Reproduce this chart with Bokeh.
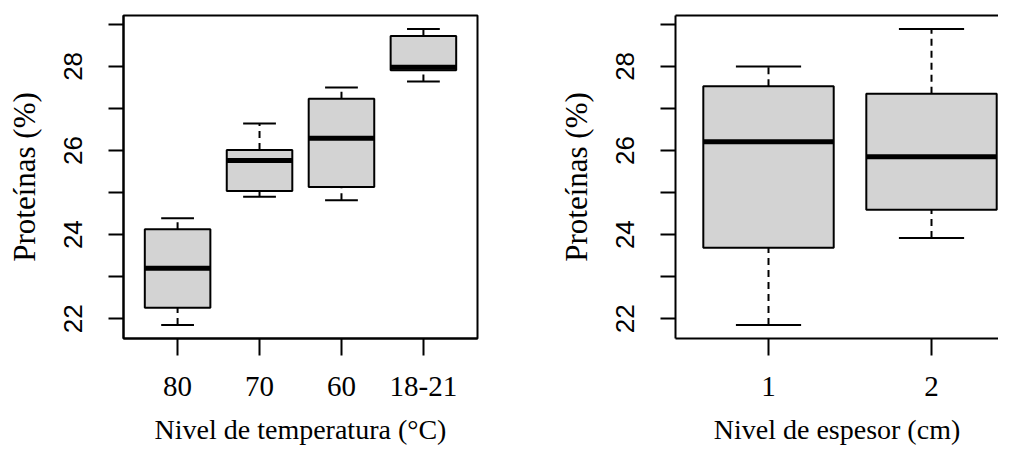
from bokeh.plotting import figure
from bokeh.layouts import row
from bokeh.models import Range1d, FixedTicker, LinearAxis, ColumnDataSource
from bokeh.transform import dodge
from bokeh.embed import file_html
from bokeh.resources import INLINE

# ---- data ----
temp_levels = ["80", "70", "60", "18-21"]
temp_whisk_lo = [21.85, 24.90, 24.82, 27.64]
temp_q1 = [22.26, 25.04, 25.13, 27.91]
temp_median = [23.20, 25.76, 26.29, 27.98]
temp_q3 = [24.13, 26.01, 27.23, 28.72]
temp_whisk_hi = [24.39, 26.64, 27.50, 28.89]

esp_levels = ["1", "2"]
esp_whisk_lo = [21.85, 23.92]
esp_q1 = [23.69, 24.59]
esp_median = [26.21, 25.85]
esp_q3 = [27.53, 27.35]
esp_whisk_hi = [28.00, 28.89]

y_ticks = [22, 23, 24, 25, 26, 27, 28, 29]
y_tick_labels = ["22", "", "24", "", "26", "", "28", ""]

y_label = "Proteínas (%)"
temp_title = "Nivel de temperatura (°C)"
esp_title = "Nivel de espesor (cm)"

FILL = "#d3d3d3"
SERIF = "Liberation Serif"
SANS = "Liberation Sans"


def draw_boxes(p, levels, lo, q1, med, q3, hi, cap_half):
    xs = list(range(1, len(levels) + 1))
    src = ColumnDataSource(dict(x=xs, lo=lo, q1=q1, med=med, q3=q3, hi=hi))
    # whiskers (dashed)
    p.segment(x0="x", y0="q3", x1="x", y1="hi", source=src,
              line_color="black", line_width=2, line_dash="7 5")
    p.segment(x0="x", y0="lo", x1="x", y1="q1", source=src,
              line_color="black", line_width=2, line_dash="7 5")
    # staples
    p.segment(x0=dodge("x", -cap_half), y0="hi", x1=dodge("x", cap_half), y1="hi",
              source=src, line_color="black", line_width=2)
    p.segment(x0=dodge("x", -cap_half), y0="lo", x1=dodge("x", cap_half), y1="lo",
              source=src, line_color="black", line_width=2)
    # boxes
    p.vbar(x="x", width=0.8, bottom="q1", top="q3", source=src,
           fill_color=FILL, line_color="black", line_width=2)
    # medians
    p.segment(x0=dodge("x", -0.4), y0="med", x1=dodge("x", 0.4), y1="med",
              source=src, line_color="black", line_width=5, line_cap="butt")


def style_axes(p, x_labels, x_title):
    p.xgrid.visible = False
    p.ygrid.visible = False
    xa = p.xaxis[0]
    xa.ticker = FixedTicker(ticks=list(range(1, len(x_labels) + 1)), minor_ticks=[])
    xa.major_label_overrides = {i + 1: lab for i, lab in enumerate(x_labels)}
    xa.major_label_text_font = SERIF
    xa.major_label_text_font_size = "29px"
    xa.major_label_text_color = "black"
    xa.major_tick_out = 17
    xa.major_tick_in = 0
    xa.minor_tick_out = 0
    xa.minor_tick_in = 0
    xa.major_tick_line_width = 2
    xa.major_tick_line_color = "black"
    xa.axis_line_width = 2
    xa.axis_line_color = "black"
    xa.major_label_standoff = 21
    xa.axis_label = x_title
    xa.axis_label_text_font = SERIF
    xa.axis_label_text_font_size = "28px"
    xa.axis_label_text_font_style = "normal"
    xa.axis_label_text_color = "black"
    xa.axis_label_standoff = 15

    ya = p.yaxis[0]
    ya.ticker = FixedTicker(ticks=y_ticks, minor_ticks=[])
    ya.major_label_overrides = {t: lab for t, lab in zip(y_ticks, y_tick_labels)}
    ya.major_label_orientation = "vertical"
    ya.major_label_text_font = SANS
    ya.major_label_text_font_size = "26px"
    ya.major_label_text_color = "black"
    ya.major_tick_out = 15
    ya.major_tick_in = 0
    ya.minor_tick_out = 0
    ya.minor_tick_in = 0
    ya.major_tick_line_width = 2
    ya.major_tick_line_color = "black"
    ya.axis_line_width = 2
    ya.axis_line_color = "black"
    ya.major_label_standoff = 26
    ya.axis_label = y_label
    ya.axis_label_text_font = SERIF
    ya.axis_label_text_font_size = "31px"
    ya.axis_label_text_font_style = "normal"
    ya.axis_label_text_color = "black"
    ya.axis_label_standoff = 20


H = 447
p1 = figure(width=532, height=H, x_range=Range1d(0.34, 4.66), y_range=Range1d(21.53, 29.21),
            output_backend="svg", toolbar_location=None,
            min_border_left=123, min_border_right=55, min_border_top=15, min_border_bottom=108)
p1.outline_line_color = "black"
p1.outline_line_width = 2
draw_boxes(p1, temp_levels, temp_whisk_lo, temp_q1, temp_median, temp_q3, temp_whisk_hi, 0.2)
style_axes(p1, temp_levels, temp_title)

# right panel (cropped on its right side in the original, so no right border)
p2 = figure(width=466, height=H, x_range=Range1d(0.4294, 2.411), y_range=Range1d(21.53, 29.21),
            output_backend="svg", toolbar_location=None,
            min_border_left=143, min_border_right=0, min_border_top=15, min_border_bottom=108)
p2.outline_line_color = None
draw_boxes(p2, esp_levels, esp_whisk_lo, esp_q1, esp_median, esp_q3, esp_whisk_hi, 0.2)
style_axes(p2, esp_levels, esp_title)
top = LinearAxis(ticker=FixedTicker(ticks=[], minor_ticks=[]), major_tick_out=0, major_tick_in=0,
                 minor_tick_out=0, minor_tick_in=0, major_label_text_font_size="0px",
                 axis_line_width=2, axis_line_color="black", major_label_standoff=0)
p2.add_layout(top, "above")

layout = row(p1, p2, spacing=0)
open("out.html", "w").write(file_html(layout, INLINE))
